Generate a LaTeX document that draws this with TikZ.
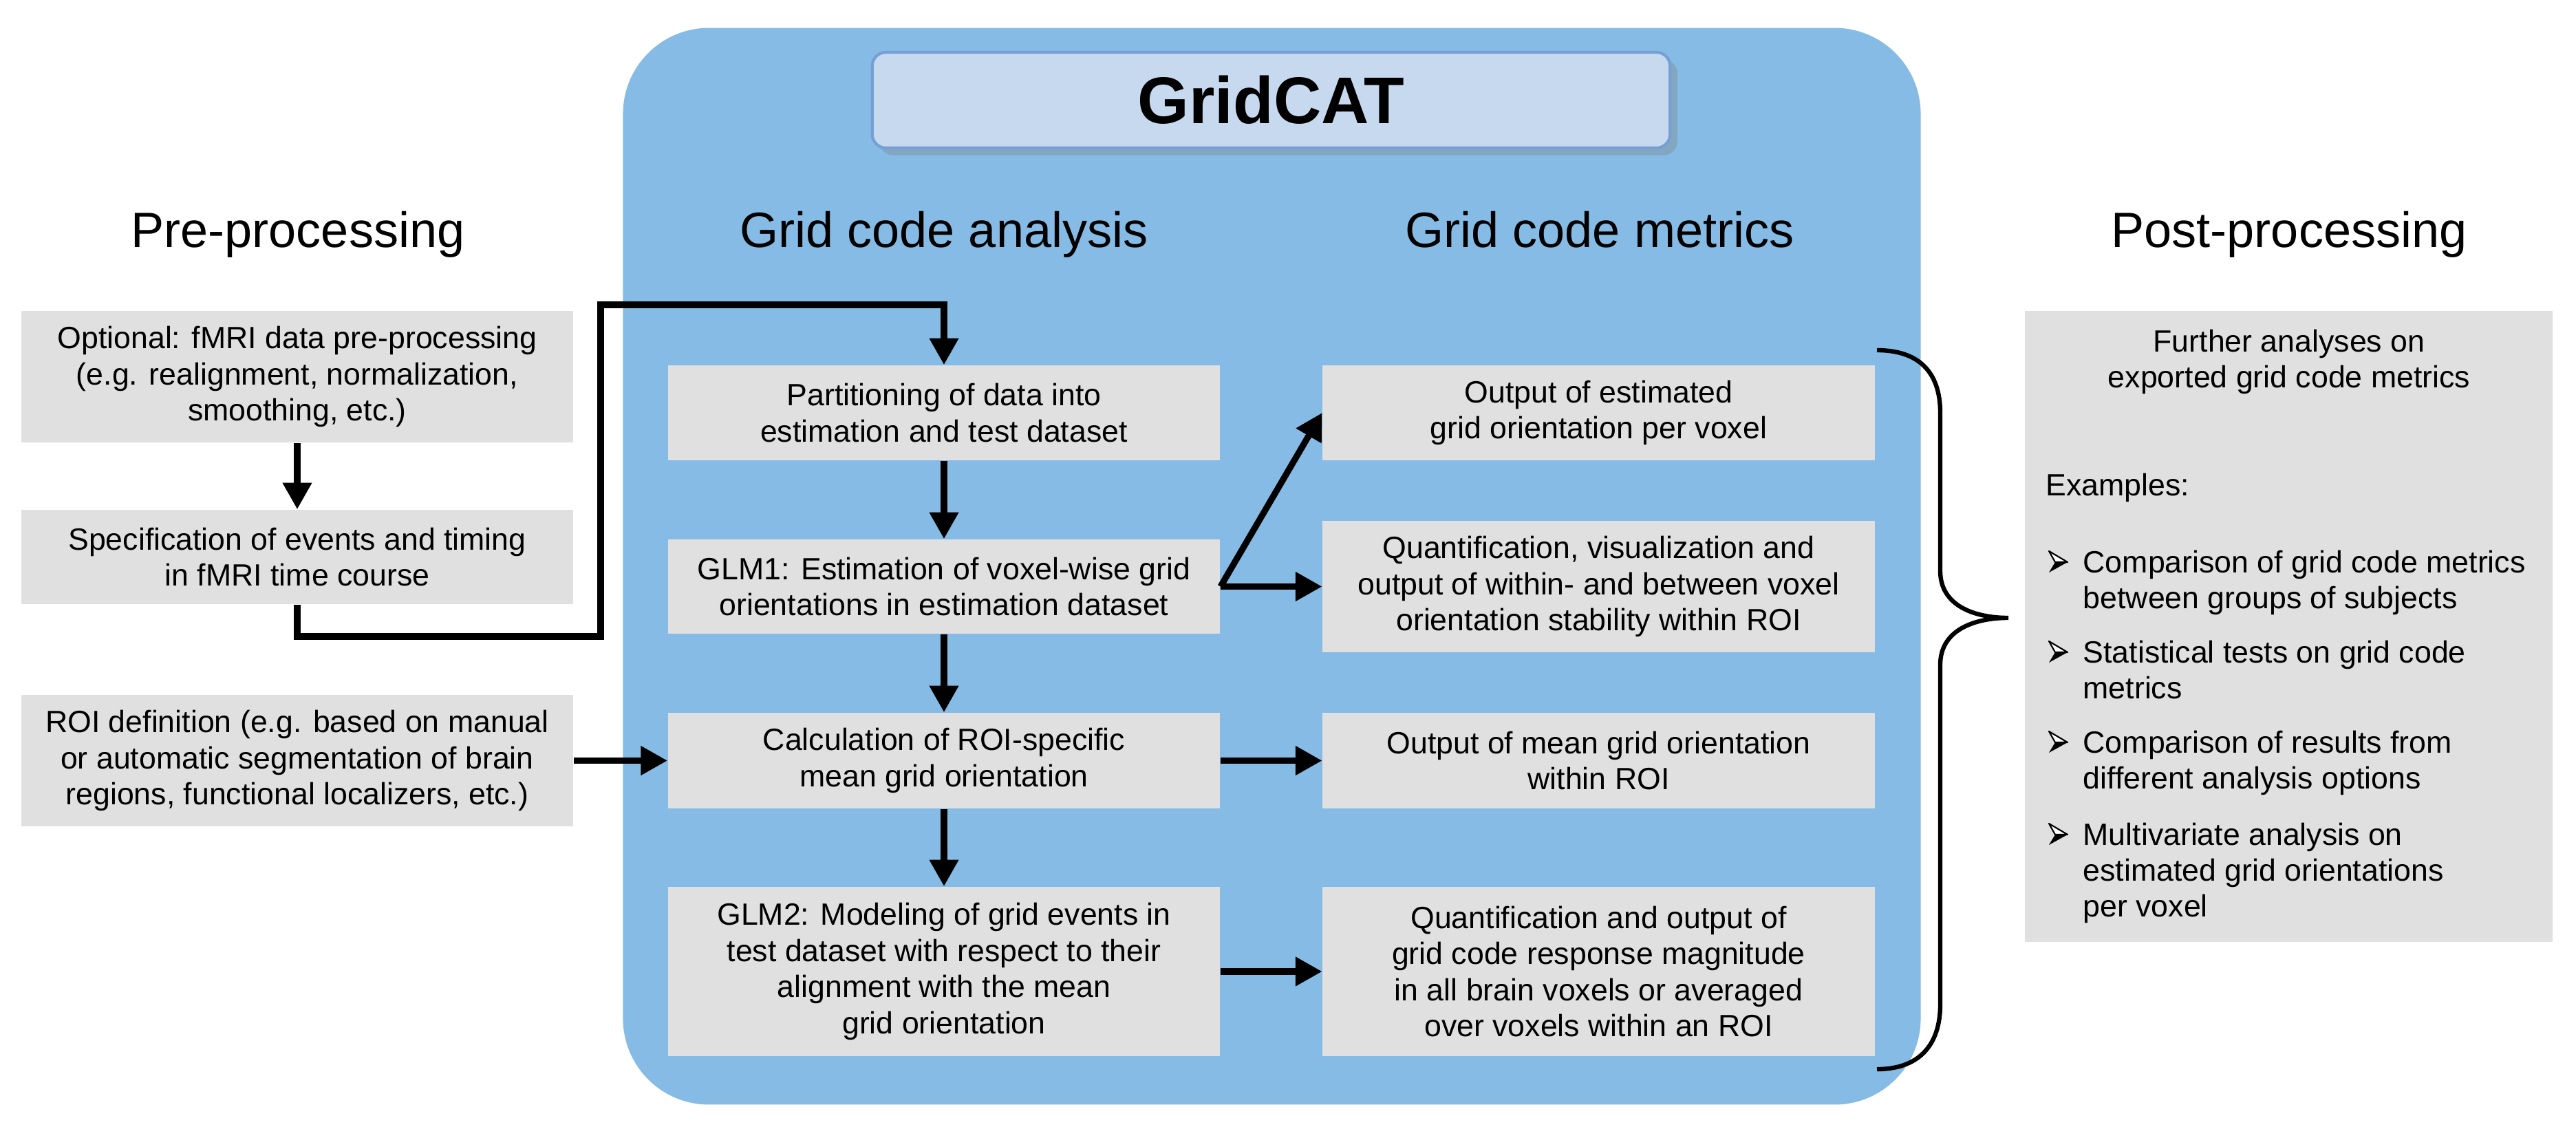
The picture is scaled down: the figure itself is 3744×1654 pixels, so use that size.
\documentclass[tikz,border=0pt]{standalone}
\usepackage{fontspec}
\setmainfont{Liberation Sans}
\usepackage{xcolor}
\usepackage{tikz}
\usetikzlibrary{arrows.meta}
\usetikzlibrary{positioning}
\usetikzlibrary{shadows}
\usetikzlibrary{calc}

\definecolor{panelblue}{RGB}{133,187,228}
\definecolor{capblue}{RGB}{198,217,239}
\definecolor{capedge}{RGB}{118,160,212}
\definecolor{boxgray}{RGB}{224,224,224}

\newcommand{\boxfont}{\fontsize{12.7}{14.9}\selectfont}
\newcommand{\titlefont}{\fontsize{20.5}{24}\selectfont}

\tikzset{
    arrowline/.style={draw=black, line width=2.6pt, -{Triangle[length=11pt,width=11.5pt]}},
    bracket/.style={draw=black, line width=1.8pt},
    itemtext/.style={anchor=north west, align=left, inner sep=0pt, font=\boxfont}
}

\begin{document}
\begin{tikzpicture}[x=0.01cm,y=-0.01cm]
    \useasboundingbox (0,0) rectangle (3744,1654);
    % GridCAT panel
    \node (panel) at (1848.5,823) [fill=panelblue, rounded corners=1.25cm, inner sep=0pt,
        minimum width=18.85cm, minimum height=15.64cm] {};
    \node (gridcat) at (1847.5,145.5) [fill=capblue, draw=capedge, line width=1.2pt, rounded corners=0.2cm,
        minimum width=11.59cm, minimum height=1.39cm, inner sep=0pt,
        drop shadow={opacity=0.35, shadow xshift=3pt, shadow yshift=-3pt},
        font=\fontsize{27.3}{32}\selectfont\bfseries] {GridCAT};
    % column titles
    \begin{scope}[every node/.style={anchor=base, inner sep=0pt, font=\titlefont}]
    \node (pretitle) at (433,359) {Pre-processing};
    \node (anatitle) at (1372,359) {Grid code analysis};
    \node (mettitle) at (2325,359) {Grid code metrics};
    \node (posttitle) at (3327,359) {Post-processing};
    \end{scope}
    % boxes
    \begin{scope}[every node/.style={fill=boxgray, align=center, inner sep=0pt, minimum width=8.02cm, font=\boxfont}]
    \node (opt) at (432,547.5) [minimum height=1.91cm] {Optional: fMRI data pre-processing\\(e.g. realignment, normalization,\\smoothing, etc.)};
    \node (spec) at (432,809.5) [minimum height=1.37cm] {Specification of events and timing\\in fMRI time course};
    \node (roi) at (432,1105.5) [minimum height=1.91cm] {ROI definition (e.g. based on manual\\or automatic segmentation of brain\\regions, functional localizers, etc.)};
    \node (part) at (1372,600) [minimum height=1.38cm] {Partitioning of data into\\estimation and test dataset};
    \node (glm1) at (1372,852.5) [minimum height=1.37cm] {GLM1: Estimation of voxel-wise grid\\orientations in estimation dataset};
    \node (calc) at (1372,1105.5) [minimum height=1.39cm] {Calculation of ROI-specific\\mean grid orientation};
    \node (glm2) at (1372,1412) [minimum height=2.46cm] {GLM2: Modeling of grid events in\\test dataset with respect to their\\alignment with the mean\\grid orientation};
    \node (out1) at (2323.5,600) [minimum height=1.38cm] {Output of estimated\\grid orientation per voxel};
    \node (quant1) at (2323.5,852.5) [minimum height=1.91cm] {Quantification, visualization and\\output of within- and between voxel\\orientation stability within ROI};
    \node (outmean) at (2323.5,1105.5) [minimum height=1.39cm] {Output of mean grid orientation\\within ROI};
    \node (quant2) at (2323.5,1412) [minimum height=2.46cm] {Quantification and output of\\grid code response magnitude\\in all brain voxels or averaged\\over voxels within an ROI};
    \node (post) at (3326.5,910.5) [minimum width=7.67cm, minimum height=9.17cm] {};
    \end{scope}
    % post-processing text
    \node (further) at (3327,478) [anchor=north, align=center, inner sep=0pt, font=\boxfont] {Further analyses on\\exported grid code metrics};
    \node (examples) at (2973,720) [anchor=base west, inner sep=0pt, font=\boxfont] {Examples:};
    \node (item1) at (3027,799) [itemtext] {Comparison of grid code metrics\\between groups of subjects};
    \node (item2) at (3027,930) [itemtext] {Statistical tests on grid code\\metrics};
    \node (item3) at (3027,1061) [itemtext] {Comparison of results from\\different analysis options};
    \node (item4) at (3027,1195) [itemtext] {Multivariate analysis on\\estimated grid orientations\\per voxel};
    % bullet arrowheads
    \foreach \y in {832,963,1094,1228} {
        \filldraw[fill=white, line width=0.6pt, line join=round] (2978,\y-31) -- (3005,\y-15) -- (2987,\y-15) -- cycle;
        \fill (2987,\y-15) -- (3005,\y-15) -- (2978,\y) -- cycle;
    }
    % connectors
    \coordinate (loopa) at (873,925);
    \coordinate (loopb) at (873,443);
    \draw[arrowline] (spec.south) |- (loopa) -- (loopb) -| (part.north);
    \begin{scope}[every edge/.style={arrowline}]
    \path (opt) edge (spec);
    \path (part) edge (glm1);
    \path (glm1) edge (calc);
    \path (calc) edge (glm2);
    \path (roi) edge (calc);
    \path (glm1.east) edge (out1.west);
    \path (glm1.east) edge (quant1.west);
    \path (calc) edge (outmean);
    \path (glm2) edge (quant2);
    \end{scope}
    % brace
    \coordinate (bracetop) at (2728,509);
    \coordinate (bracetip) at (2919,898);
    \coordinate (bracebot) at (2728,1554);
    \draw[bracket] (bracetop) .. controls +(60,0) and +(0,-60) .. (2820,600) -- (2820,830)
        .. controls +(0,50) and +(-50,0) .. (bracetip)
        .. controls +(-50,0) and +(0,-50) .. (2820,966) -- (2820,1460)
        .. controls +(0,60) and +(60,0) .. (bracebot);
\end{tikzpicture}
\end{document}
